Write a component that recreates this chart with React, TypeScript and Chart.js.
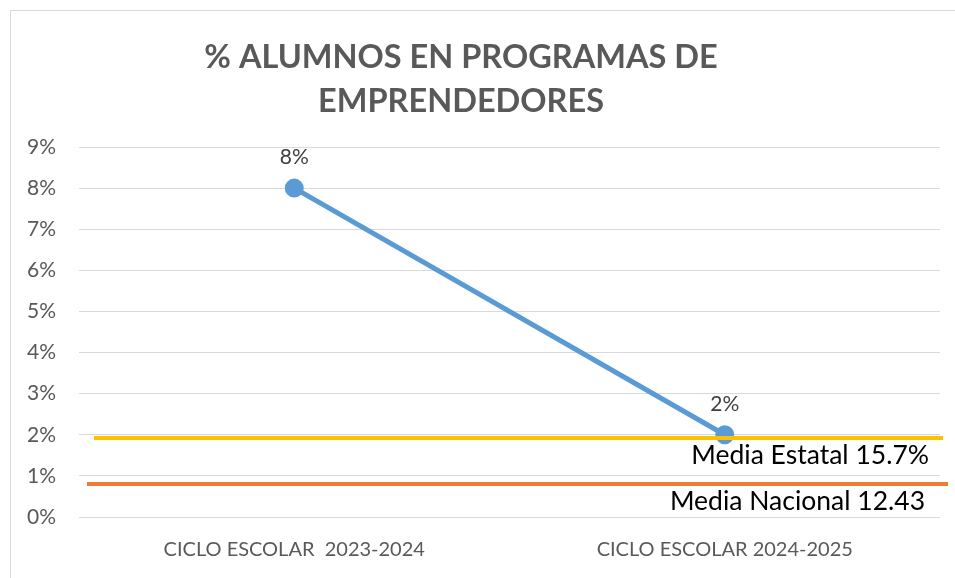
import React, { useEffect, useRef } from "react";
import { Chart, registerables } from "chart.js";

Chart.register(...registerables);

const titleLines = ["% ALUMNOS EN PROGRAMAS DE", "EMPRENDEDORES"];
const categories = ["CICLO ESCOLAR  2023-2024", "CICLO ESCOLAR 2024-2025"];
const seriesValues = [0.08, 0.02];
const dataLabels = ["8%", "2%"];
const yMin = 0;
const yMax = 0.09;
const yStep = 0.01;
const refValues = [0.0192, 0.008];
const refLabels = ["Media Estatal 15.7%", "Media Nacional 12.43"];

const FONT = "Lato, 'Liberation Sans', sans-serif";

const refStyles = [
  { color: "#FFC000", width: 4, leftOff: 15, rightOff: 3, textRightOff: 11 },
  { color: "#ED7D31", width: 4, leftOff: 8, rightOff: 8, textRightOff: 15 },
];

const framePlugin = {
  id: "frame",
  beforeDraw(chart: any) {
    const ctx = chart.ctx;
    ctx.save();
    ctx.fillStyle = "#ffffff";
    ctx.fillRect(0, 0, chart.width, chart.height);
    ctx.strokeStyle = "#d9d9d9";
    ctx.lineWidth = 1;
    ctx.strokeRect(10.5, 10.5, chart.width + 20, chart.height + 20);
    // title
    ctx.fillStyle = "#595959";
    ctx.font = `bold 32.5px ${FONT}`;
    ctx.textAlign = "center";
    ctx.textBaseline = "middle";
    titleLines.forEach((t, i) => {
      ctx.fillText(t, 461, 58 + i * 44);
    });
    ctx.restore();
  },
};

const refPlugin = {
  id: "refLines",
  afterDatasetsDraw(chart: any) {
    const ctx = chart.ctx;
    const y = chart.scales.y;
    const area = chart.chartArea;
    ctx.save();
    refValues.forEach((v, i) => {
      const st = refStyles[i];
      const py = y.getPixelForValue(v);
      ctx.strokeStyle = st.color;
      ctx.lineWidth = st.width;
      ctx.beginPath();
      ctx.moveTo(area.left + st.leftOff, py);
      ctx.lineTo(area.right + st.rightOff, py);
      ctx.stroke();
      ctx.fillStyle = "#000000";
      ctx.font = `26.5px ${FONT}`;
      ctx.textAlign = "right";
      ctx.textBaseline = "middle";
      ctx.fillText(refLabels[i], area.right - st.textRightOff, py + 17);
    });
    ctx.restore();
  },
};

const labelPlugin = {
  id: "pointLabels",
  afterDatasetsDraw(chart: any) {
    const ctx = chart.ctx;
    const meta = chart.getDatasetMeta(0);
    ctx.save();
    ctx.fillStyle = "#404040";
    ctx.font = `21px ${FONT}`;
    ctx.textAlign = "center";
    ctx.textBaseline = "middle";
    meta.data.forEach((pt: any, i: number) => {
      ctx.fillText(dataLabels[i], pt.x, pt.y - 31);
    });
    ctx.restore();
  },
};

export default function App() {
  const ref = useRef<HTMLCanvasElement>(null);
  useEffect(() => {
    if (!ref.current) return;
    const chart = new Chart(ref.current, {
      type: "line",
      data: {
        labels: categories,
        datasets: [
          {
            data: seriesValues,
            borderColor: "#5B9BD5",
            backgroundColor: "#5B9BD5",
            borderWidth: 5,
            pointRadius: 7,
            pointHoverRadius: 7,
            pointBackgroundColor: "#5B9BD5",
            pointBorderColor: "#5B9BD5",
          },
        ],
      },
      options: {
        animation: false,
        responsive: false,
        maintainAspectRatio: false,
        layout: { padding: { left: 10, right: 15, top: 147, bottom: 0 } },
        plugins: {
          legend: { display: false },
          tooltip: { enabled: false },
          title: { display: false },
        },
        scales: {
          x: {
            offset: true,
            grid: { display: false, drawTicks: false },
            border: { display: false },
            ticks: {
              color: "#595959",
              font: { family: FONT, size: 20 },
              padding: 21,
              maxRotation: 0,
              autoSkip: false,
            },
            afterFit(scale: any) {
              scale.height = 61;
            },
          },
          y: {
            min: yMin,
            max: yMax,
            grid: { color: "#d9d9d9", lineWidth: 1, drawTicks: false },
            border: { display: false },
            ticks: {
              stepSize: yStep,
              color: "#595959",
              font: { family: FONT, size: 21 },
              padding: 23,
              callback: (v: any) => `${Math.round(Number(v) * 100)}%`,
            },
            afterFit(scale: any) {
              scale.width = 69;
            },
          },
        },
      },
      plugins: [framePlugin, refPlugin, labelPlugin],
    });
    return () => chart.destroy();
  }, []);
  return (
    <div style={{ position: "fixed", left: 0, top: 0, width: 955, height: 578 }}>
      <canvas ref={ref} width={955} height={578} style={{ display: "block" }} />
    </div>
  );
}
